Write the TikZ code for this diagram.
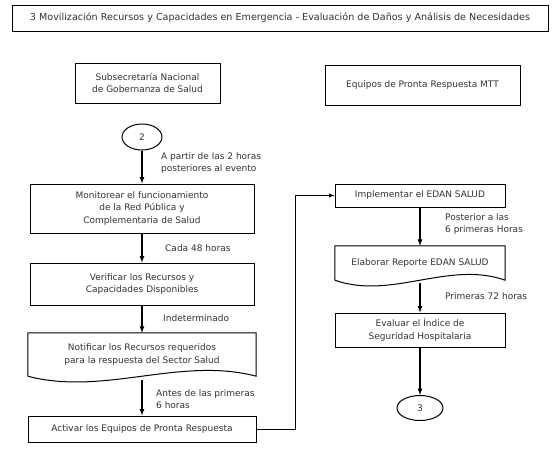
\documentclass[tikz,border=0pt]{standalone}
\usepackage{fontspec}
\setmainfont{DejaVu Sans}
\usetikzlibrary{positioning, shapes, arrows}

\begin{document}
\begin{tikzpicture}[x=1pt, y=-1pt, font=\fontsize{9}{12.5}\selectfont,
    box/.style={rectangle, draw, line width=1pt, align=center, inner sep=2pt, text=black!80},
    docbox/.style={rectangle, align=center, inner sep=2pt, text=black!80},
    term/.style={ellipse, draw, line width=1pt, inner sep=0pt, text=black!80},
    note/.style={anchor=west, align=left, inner sep=0pt, text=black!80},
    flow/.style={-latex, line width=1.2pt}]
    \useasboundingbox[fill=white] (0,0) rectangle (557,448);

    % titulo y responsables
    \node[box, minimum width=536pt, minimum height=26pt, font=\fontsize{9.6}{12}\selectfont] (title) at (280,18) {3 Movilización Recursos y Capacidades en Emergencia - Evaluación de Daños y Análisis de Necesidades};
    \node[box, minimum width=145pt, minimum height=40pt] (subsec) at (147.5,83) {Subsecretaría Nacional\\de Gobernanza de Salud};
    \node[box, minimum width=195pt, minimum height=40pt] (equipos) at (422.5,85) {Equipos de Pronta Respuesta MTT};

    % columna izquierda
    \node[term, minimum width=40pt, minimum height=26pt] (c2) at (142,137) {2};
    \node[box, minimum width=224pt, minimum height=49pt] (monit) at (142,208.5) {Monitorear el funcionamiento\\de la Red Pública y\\Complementaria de Salud};
    \node[box, minimum width=224pt, minimum height=42pt] (verif) at (142,284) {Verificar los Recursos y\\Capacidades Disponibles};
    \node[docbox, minimum width=228pt, minimum height=43pt] (notif) at (142,354.5) {Notificar los Recursos requeridos\\para la respuesta del Sector Salud};
    \node[box, minimum width=228pt, minimum height=26pt] (activ) at (142,429) {Activar los Equipos de Pronta Respuesta};

    % columna derecha
    \node[box, minimum width=170pt, minimum height=23pt] (impl) at (420,195.5) {Implementar el EDAN SALUD};
    \node[docbox, minimum width=170pt, minimum height=34pt] (elab) at (420,263) {Elaborar Reporte EDAN SALUD};
    \node[box, minimum width=170pt, minimum height=34pt] (evalu) at (420,330) {Evaluar el Índice de\\Seguridad Hospitalaria};
    \node[term, minimum width=46pt, minimum height=25pt] (c3) at (420,408) {3};

    % documentos con borde ondulado
    \draw[line width=1pt] (notif.south west) -- (notif.north west) -- (notif.north east) -- (notif.south east)
        .. controls ([xshift=-76pt, yshift=20pt]notif.south east) and ([xshift=76pt, yshift=-20pt]notif.south west) .. (notif.south west);
    \draw[line width=1pt] (elab.south west) -- (elab.north west) -- (elab.north east) -- (elab.south east)
        .. controls ([xshift=-57pt, yshift=20pt]elab.south east) and ([xshift=57pt, yshift=-20pt]elab.south west) .. (elab.south west);

    % tiempos
    \node[note] (t1) at (161,163) {A partir de las 2 horas\\posteriores al evento};
    \node[note] (t2) at (165,248) {Cada 48 horas};
    \node[note] (t3) at (163,318) {Indeterminado};
    \node[note] (t4) at (156,399) {Antes de las primeras\\6 horas};
    \node[note] (t5) at (445,224) {Posterior a las\\6 primeras Horas};
    \node[note] (t6) at (445,296) {Primeras 72 horas};

    % flechas
    \draw[flow] (c2) -- (monit);
    \draw[flow] (monit) -- (verif);
    \draw[flow] (verif) -- (notif);
    \draw[flow] ([yshift=-4pt]notif.south) -- (activ);
    \draw[flow, line width=0.9pt] (activ.east) -- ++(39,0) |- (impl.west);
    \draw[flow] (impl) -- (elab);
    \draw[flow] ([yshift=-3pt]elab.south) -- (evalu);
    \draw[flow] (evalu) -- (c3);
\end{tikzpicture}
\end{document}
